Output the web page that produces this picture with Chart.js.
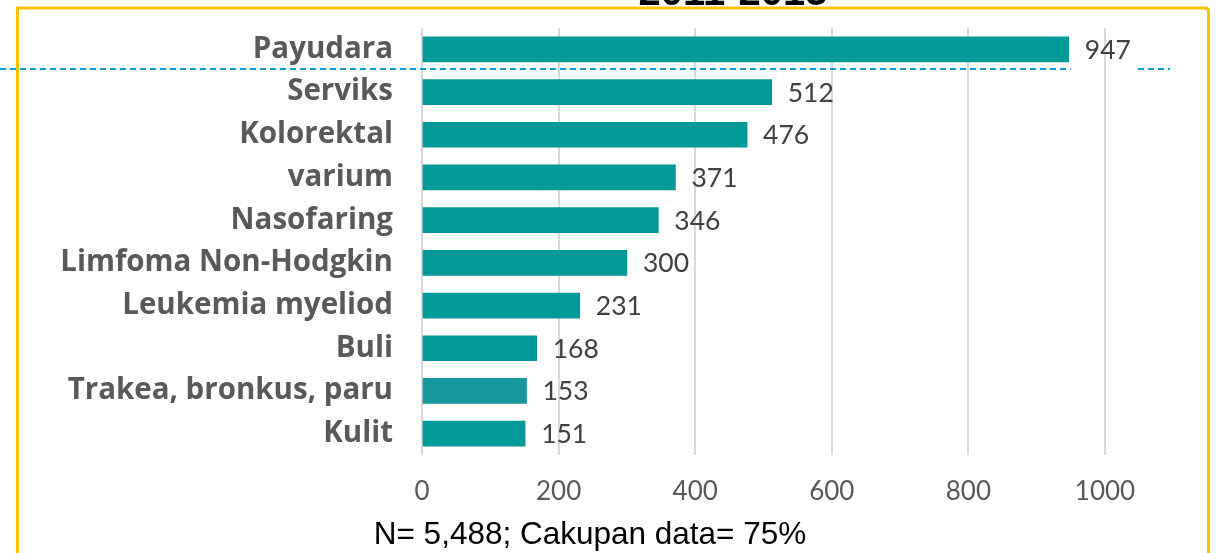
<!DOCTYPE html>
<html>
<head>
<meta charset="utf-8">
<script src="https://cdn.jsdelivr.net/npm/chart.js@4/dist/chart.umd.min.js"></script>
<style>
html,body{margin:0;padding:0;background:#fff;}
#wrap{width:1218px;height:553px;position:relative;}
</style>
</head>
<body>
<div id="wrap"><canvas id="c" width="1218" height="553"></canvas></div>
<script>
const categories = ["Payudara","Serviks","Kolorektal","varium","Nasofaring","Limfoma Non-Hodgkin","Leukemia myeliod","Buli","Trakea, bronkus, paru","Kulit"];
const values = [947,512,476,371,346,300,231,168,153,151];
const xTicks = [0,200,400,600,800,1000];
const titleText = "2011-2013";
const footerText = "N= 5,488; Cakupan data= 75%";

const barColors = categories.map((c,i)=> i===8 ? '#15979C' : '#009999');

const decor = {
  id:'decor',
  beforeDraw(chart){
    const ctx = chart.ctx;
    ctx.save();
    ctx.fillStyle='#fff';
    ctx.fillRect(0,0,chart.width,chart.height);
    ctx.strokeStyle='#FFC000';
    ctx.lineWidth=3;
    ctx.beginPath();
    ctx.moveTo(17.5,570);
    ctx.lineTo(17.5,8);
    ctx.lineTo(1205,8);
    ctx.quadraticCurveTo(1208.5,8,1208.5,11.5);
    ctx.lineTo(1208.5,570);
    ctx.stroke();
    ctx.fillStyle='#000';
    ctx.font='bold 40px "Liberation Sans", Arial, sans-serif';
    ctx.textAlign='center';
    ctx.textBaseline='alphabetic';
    ctx.fillText(titleText, 733, 5);
    ctx.restore();
  },
  afterDraw(chart){
    const ctx = chart.ctx;
    const xs = chart.scales.x, ys = chart.scales.y;
    ctx.save();
    ctx.fillStyle='#404040';
    ctx.font='26.5px Lato, sans-serif';
    ctx.textAlign='left';
    ctx.textBaseline='middle';
    values.forEach((v,i)=>{
      ctx.fillText(String(v), xs.getPixelForValue(v)+16, ys.getPixelForValue(i)+1);
    });
    ctx.strokeStyle='#00A0DC';
    ctx.lineWidth=2;
    ctx.setLineDash([6,4]);
    const yl = Math.round((ys.getPixelForValue(0)+ys.getPixelForValue(1))/2 - 2);
    ctx.beginPath();
    ctx.moveTo(0,yl); ctx.lineTo(xs.getPixelForValue(values[0])+2,yl);
    ctx.moveTo(1138,yl); ctx.lineTo(1170,yl);
    ctx.stroke();
    ctx.setLineDash([]);
    ctx.fillStyle='#000';
    ctx.font='31.5px "Liberation Sans", Arial, sans-serif';
    ctx.textAlign='center';
    ctx.textBaseline='alphabetic';
    ctx.fillText(footerText, 590, 544);
    ctx.restore();
  }
};

new Chart(document.getElementById('c'), {
  type:'bar',
  data:{
    labels:categories,
    datasets:[{
      data:values,
      backgroundColor:barColors,
      borderWidth:0,
      barThickness:25
    }]
  },
  options:{
    indexAxis:'y',
    responsive:false,
    animation:false,
    events:[],
    layout:{padding:{top:28,right:113,bottom:0,left:0}},
    plugins:{legend:{display:false},tooltip:{enabled:false},title:{display:false}},
    scales:{
      x:{
        min:0,max:1000,
        afterBuildTicks(s){ s.ticks = xTicks.map(v=>({value:v})); },
        afterFit(s){ s.height = 98; s.paddingLeft = 0; s.paddingRight = 0; },
        grid:{color:'#D9D9D9',lineWidth:2,drawTicks:false},
        border:{display:false},
        ticks:{color:'#595959',font:{family:'Lato',size:26},padding:21,maxRotation:0,
               callback:(v)=>String(v)}
      },
      y:{
        afterFit(s){ s.width = 422; s.paddingTop = 0; s.paddingBottom = 0; },
        grid:{display:false,drawTicks:false},
        border:{display:false},
        ticks:{color:'#595959',font:{family:'"Open Sans"',size:29.5,weight:'bold'},padding:29,autoSkip:false}
      }
    }
  },
  plugins:[decor]
});
</script>
</body>
</html>
